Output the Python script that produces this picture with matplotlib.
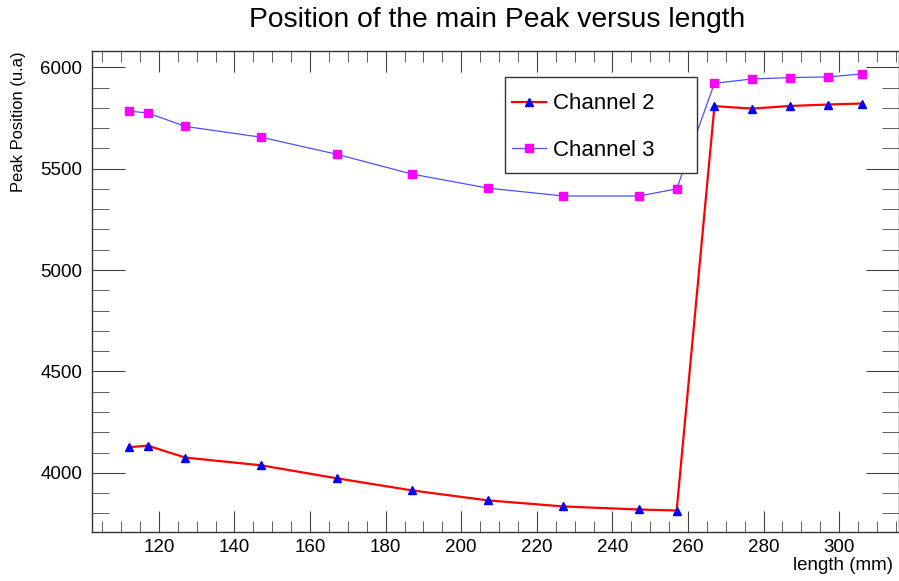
import matplotlib.pyplot as plt
from matplotlib.patches import Rectangle
from matplotlib.ticker import MultipleLocator

plt.rcParams['font.family'] = ['Liberation Sans', 'DejaVu Sans']

# lengths (mm) and main peak positions for both channels
length_mm = [112, 117, 127, 147, 167, 187, 207, 227, 247, 257, 267, 277, 287, 297, 306]
channel2 = [4126, 4134, 4075, 4037, 3973, 3913, 3864, 3834, 3819, 3814,
            5808, 5796, 5809, 5816, 5821]
channel3 = [5783, 5775, 5708, 5655, 5571, 5473, 5404, 5365, 5365, 5400,
            5921, 5942, 5949, 5952, 5967]

W, H = 899, 581
fig = plt.figure(figsize=(W / 100, H / 100), dpi=100)
ax = fig.add_axes([92 / W, 49 / H, 806.5 / W, 481 / H])

ax.plot(length_mm, channel2, color='red', lw=1.6, marker='^', ms=5.5,
        mfc='blue', mec='blue', label='Channel 2')
ax.plot(length_mm, channel3, color='#4f4fff', lw=0.9, marker='s', ms=5.5,
        mfc='magenta', mec='magenta', label='Channel 3')

ax.set_xlim(102.3, 315.7)
ax.set_ylim(3708, 6080)

ax.xaxis.set_major_locator(MultipleLocator(20))
ax.xaxis.set_minor_locator(MultipleLocator(5))
ax.yaxis.set_major_locator(MultipleLocator(500))
ax.yaxis.set_minor_locator(MultipleLocator(100))
ax.tick_params(which='both', direction='in', top=True, right=True,
               color='#444444', labelsize=13.5)
ax.tick_params(axis='x', which='major', length=15, pad=5)
ax.tick_params(axis='x', which='minor', length=8)
ax.tick_params(axis='y', which='major', length=24, pad=7)
ax.tick_params(axis='y', which='minor', length=12)
for s in ax.spines.values():
    s.set_color('#333333')
    s.set_linewidth(1.0)

fig.text(497 / W, 1 - 20 / H, 'Position of the main Peak versus length',
         ha='center', va='center', fontsize=20.3)
fig.text(18.5 / W, 1 - 122 / H, 'Peak Position (u.a)', rotation=90,
         ha='center', va='center', fontsize=11.9)
fig.text(893 / W, 1 - 565 / H, 'length (mm)', ha='right', va='center',
         fontsize=13.5)

# legend box with fixed geometry, entries drawn without their own frame
ax.add_patch(Rectangle((505 / W, 1 - 173 / H), 192 / W, 96 / H,
                       transform=fig.transFigure, facecolor='white',
                       edgecolor='#333333', lw=1.0, zorder=3, clip_on=False))
leg = ax.legend(loc='upper left', bbox_to_anchor=(512 / W, 1 - 93.5 / H),
                bbox_transform=fig.transFigure, fontsize=16, frameon=False,
                handlelength=1.55, labelspacing=1.15, borderpad=0,
                handletextpad=0.3, borderaxespad=0)
leg.set_zorder(4)

fig.savefig('out.png', dpi=100)
